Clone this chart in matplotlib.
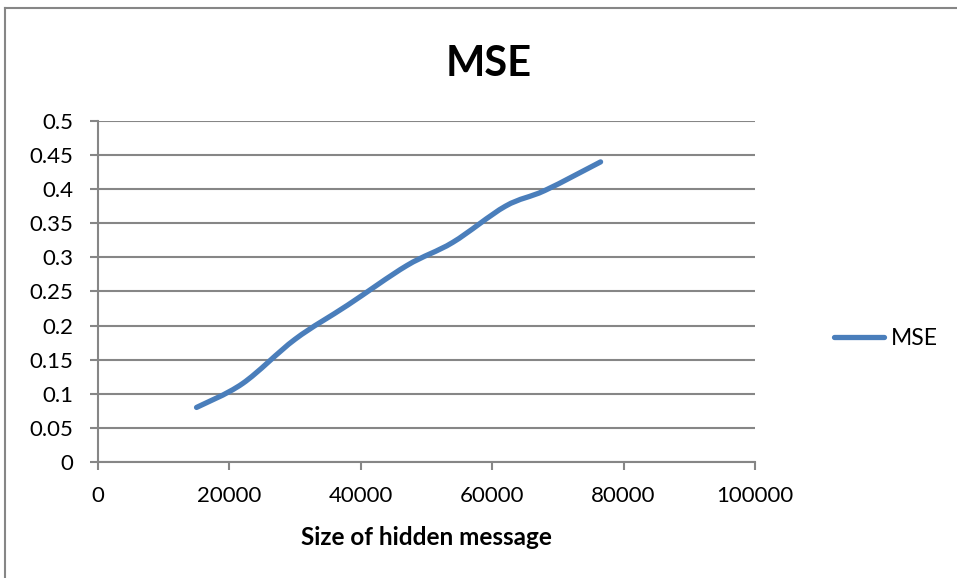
import matplotlib
matplotlib.use('Agg')
import matplotlib.pyplot as plt
import numpy as np
from matplotlib.path import Path
from matplotlib.patches import PathPatch
from matplotlib.lines import Line2D

# Data
sizes = [15000, 22000, 30000, 38000, 47000, 54000, 62000, 68000, 76500]
mse = [0.08, 0.115, 0.18, 0.23, 0.288, 0.322, 0.375, 0.398, 0.44]
x_ticks = [0, 20000, 40000, 60000, 80000, 100000]
y_ticks = [0, 0.05, 0.1, 0.15, 0.2, 0.25, 0.3, 0.35, 0.4, 0.45, 0.5]
y_labels = ['0', '0.05', '0.1', '0.15', '0.2', '0.25', '0.3', '0.35', '0.4', '0.45', '0.5']

line_color = '#4A7EBB'
grid_color = '#868686'

plt.rcParams['font.family'] = ['Lato', 'DejaVu Sans']


def smooth_path(xs, ys):
    """Excel-style smoothed line: Catmull-Rom converted to cubic Bezier."""
    pts = np.column_stack([xs, ys]).astype(float)
    n = len(pts)
    verts = [pts[0]]
    codes = [Path.MOVETO]
    for i in range(n - 1):
        p0 = pts[i - 1] if i > 0 else pts[i]
        p1 = pts[i]
        p2 = pts[i + 1]
        p3 = pts[i + 2] if i + 2 < n else pts[i + 1]
        c1 = p1 + (p2 - p0) / 6.0
        c2 = p2 - (p3 - p1) / 6.0
        verts += [c1, c2, p2]
        codes += [Path.CURVE4] * 3
    return Path(verts, codes)


fig = plt.figure(figsize=(9.57, 5.78), dpi=100)
ax = fig.add_axes([0.1024, 0.2007, 0.6865, 0.59])

patch = PathPatch(smooth_path(sizes, mse), fill=False, edgecolor=line_color,
                  linewidth=3.8, capstyle='round', joinstyle='round', zorder=3)
ax.add_patch(patch)

ax.set_xlim(0, 100000)
ax.set_ylim(0, 0.5)
ax.set_xticks(x_ticks)
ax.set_xticklabels([str(t) for t in x_ticks])
ax.set_yticks(y_ticks)
ax.set_yticklabels(y_labels)

ax.yaxis.grid(True, color=grid_color, linewidth=1.5)
ax.set_axisbelow(True)
for side in ['top', 'right']:
    ax.spines[side].set_visible(False)
for side in ['left', 'bottom']:
    ax.spines[side].set_color(grid_color)
    ax.spines[side].set_linewidth(1.5)
ax.tick_params(axis='both', direction='out', length=5.5, width=1.5,
               color=grid_color, labelsize=16, labelcolor='black')
ax.tick_params(axis='x', pad=12)
ax.tick_params(axis='y', pad=12)

ax.set_xlabel('Size of hidden message', fontsize=17.5, fontweight='bold', labelpad=14)
fig.text(0.511, 0.89, 'MSE', ha='center', va='center', fontsize=30, fontweight='bold')

handle = Line2D([], [], color=line_color, linewidth=3.8, solid_capstyle='round')
fig.legend([handle], ['MSE'], loc='center left', bbox_to_anchor=(0.871, 0.4135),
           frameon=False, fontsize=16.5, handlelength=2.2, handletextpad=0.3,
           borderpad=0, borderaxespad=0)

# chart area border (left and top edges visible)
fig.add_artist(Line2D([0.005, 0.005], [0.0, 0.987], transform=fig.transFigure,
                      color=grid_color, linewidth=1.5))
fig.add_artist(Line2D([0.005, 1.0], [0.987, 0.987], transform=fig.transFigure,
                      color=grid_color, linewidth=1.5))

fig.savefig('out.png', dpi=100)
